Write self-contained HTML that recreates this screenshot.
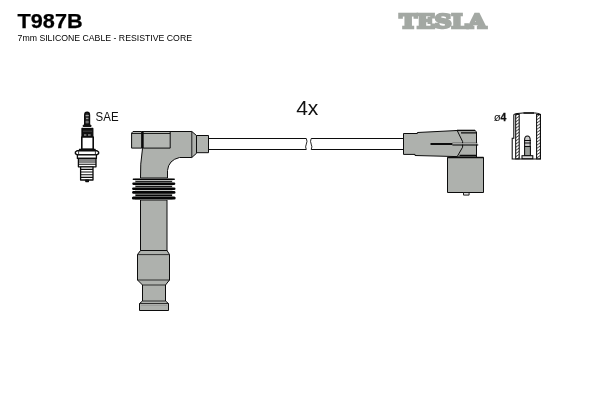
<!DOCTYPE html>
<html><head><meta charset="utf-8">
<style>
html,body{margin:0;padding:0;background:#fff;}
body{width:600px;height:400px;position:relative;overflow:hidden;font-family:"Liberation Sans",sans-serif;}
svg{position:absolute;left:0;top:0;will-change:transform;}
</style></head>
<body>
<svg width="600" height="400" viewBox="0 0 600 400" font-family="Liberation Sans, sans-serif">
<rect width="600" height="400" fill="#fff"/>
<!-- header text -->
<text id="t1" x="17.6" y="28" font-size="20.3" font-weight="bold" fill="#000" stroke="#000" stroke-width="0.25" textLength="65" lengthAdjust="spacingAndGlyphs">T987B</text>
<text id="t2" x="17.6" y="40.8" font-size="9" fill="#000" textLength="174.4" lengthAdjust="spacingAndGlyphs">7mm SILICONE CABLE - RESISTIVE CORE</text>
<text id="logo" x="399.5" y="27.9" font-family="DejaVu Serif, Liberation Serif, serif" font-size="17.6" font-weight="bold" fill="#a3a8a3" stroke="#a3a8a3" stroke-width="2.3" stroke-linejoin="miter" textLength="86.6" lengthAdjust="spacingAndGlyphs">TESLA</text>
<text id="t4x" x="296.2" y="115.3" font-size="21" fill="#111">4x</text>
<text id="sae" x="95.6" y="120.6" font-size="12.6" fill="#111" textLength="23" lengthAdjust="spacingAndGlyphs">SAE</text>
<text id="d4" x="493.7" y="121" font-size="11.4" fill="#111">ø<tspan font-weight="bold" font-size="10.4" dx="-0.2" stroke="#111" stroke-width="0.3">4</tspan></text>

<!-- cable -->
<g stroke="#0c0c0c" stroke-width="1" fill="none">
<path d="M208 138.5H306.3 M208 149.5H306.3 M311.2 138.5H404 M311.2 149.5H404"/>
<path d="M306.3 138.5q1.4 2.8 0 5.6t0 5.4 M311.2 138.5q-1.4 2.8 0 5.6t0 5.4" stroke-width="0.9"/>
</g>

<!-- left connector -->
<g stroke="#0c0c0c" stroke-width="1" stroke-linejoin="round">
<path d="M142.5 148.5 Q140 165 140.5 178 H167.5 V170.5 Q168.5 160 179.5 157.5 H191.8 L196.5 153.3 V135.5 L191.8 131.5 H142.5 Z" fill="#aeb1ad"/>
<rect x="143.2" y="131.5" width="27" height="16.6" fill="#b3b6b2"/>
<path d="M133 131.5H141.6V148.1H131.6V133Z" fill="#b0b3af"/>
<path d="M132 133.5H170.2" fill="none" stroke-width="0.9"/>
<path d="M141.6 131.5H143.2 M141.6 148.1H143.2" fill="none"/>
<rect x="196.5" y="135.5" width="12" height="17.2" fill="#b0b3af"/>
<path d="M191.8 131.5V157.5" fill="none" stroke-width="0.9"/>
<!-- stem -->
<rect x="140.5" y="200" width="26.5" height="51" fill="#aeb1ad"/>
<path d="M140.5 250.5 L137.5 254.5 V280 L142.5 285 V301 L139.5 303.5 V310.5 H168.5 V303.5 L165.5 301 V285 L169.5 280 V254.5 L167 250.5 Z" fill="#aeb1ad"/>
<path d="M137.5 254.6H169.5 M137.5 280H169.5 M142.5 285H165.5 M142.5 301H165.5 M139.5 303.5H168.5" fill="none" stroke-width="0.8"/>
<path d="M141 305.4H167" fill="none" stroke="#8d918d" stroke-width="0.6"/>
</g>
<!-- ribs -->
<rect x="135" y="178.5" width="37.5" height="21.5" fill="#c4c6c3"/>
<g stroke="#050505" fill="none">
<path d="M133.4 179.25H174.2" stroke-width="1.50" stroke-linecap="round"/>
<path d="M133.4 183.75H174.2" stroke-width="2.30" stroke-linecap="round"/>
<path d="M133.4 188.80H174.2" stroke-width="2.60" stroke-linecap="round"/>
<path d="M133.4 192.38H174.2" stroke-width="2.55" stroke-linecap="round"/>
<path d="M133.4 198.00H174.2" stroke-width="3.00" stroke-linecap="round"/>
<path d="M135.5 181.45H172" stroke-width="0.90"/>
<path d="M135.5 186.40H172" stroke-width="1.00"/>
<path d="M135.5 195.15H172" stroke-width="1.50"/>
</g>

<!-- right connector -->
<g stroke="#0c0c0c" stroke-width="1" stroke-linejoin="round">
<path d="M455 130.5 H475 L476.5 131.8 V157 H455Z" fill="#aeb1ad"/>
<path d="M403.5 133.5 H417.4 V132.5 L457.2 130.5 L462.6 141.6 V147.2 L457.2 156.6 L415 155.5 V154.4 H403.5 Z" fill="#aeb1ad"/>
<path d="M457 130.4H475" fill="none" stroke-width="1.4"/>
<path d="M461 132.8H476 M459.5 155.4H476" fill="none" stroke-width="1.3"/>
<rect x="447.5" y="157.5" width="36" height="35" fill="#aeb1ad"/>
<rect x="463.5" y="192.5" width="5.6" height="2.6" fill="#ddd" stroke-width="0.9"/>
<path d="M452.4 144.9H478.2" fill="none" stroke-width="1.3"/>
<path d="M452.4 143.7H477.8" fill="none" stroke="#e4e6e4" stroke-width="1"/>
<path d="M452.4 143H477.4" fill="none" stroke-width="0.5"/>
<path d="M430.5 144H452.4" fill="none" stroke-width="2"/>
<path d="M447.5 157.5H483.5" fill="none" stroke-width="1.5"/>
</g>

<!-- cross-section -->
<defs>
<pattern id="hatch" width="2.6" height="2.6" patternUnits="userSpaceOnUse" patternTransform="rotate(-35)">
<rect width="2.6" height="2.6" fill="#fff"/><line x1="0" y1="0" x2="2.6" y2="0" stroke="#111" stroke-width="1.3"/>
</pattern>
</defs>
<g stroke="#0a0a0a" stroke-width="1.05" fill="none">
<path d="M513.8 114.4V138.2H512.2V159H540.4V114.4" />
<rect x="515.7" y="114.4" width="3.5" height="44.4" fill="url(#hatch)"/>
<rect x="536.6" y="114.4" width="3.8" height="44.4" fill="url(#hatch)"/>
<path d="M513.8 114.6 Q516 113 523 113 H535 Q539 113 540.4 114.6"/>
<path d="M523.5 113H534" stroke-width="1.4"/>
<!-- pin -->
<path d="M524.6 146.5V140 Q524.6 136 527.4 136 Q530.2 136 530.2 140V146.5" fill="#ccc"/>
<path d="M524 140.5H531 M524 143H531" stroke-width="1.2"/>
<rect x="524.6" y="146.5" width="5.8" height="9.2" fill="#9a9e9a"/>
<rect x="522" y="155.7" width="10.8" height="3" fill="#ddd"/>
</g>

<!-- spark plug -->
<g stroke="#0c0c0c" stroke-width="1.2" fill="none" stroke-linejoin="round">
<path d="M84.8 125V115 Q84.8 112.4 87.1 112.4 Q89.4 112.4 89.4 115V125Z" fill="#333" stroke-width="1.6"/>
<path d="M85.6 115.6H88.8 M86 118.4H88.4 M85.6 122H88.8" stroke="#bbb" stroke-width="0.9"/>
<rect x="83.2" y="125.2" width="7.8" height="1.4" fill="#111" stroke-width="1"/>
<rect x="82" y="128.4" width="10.8" height="8" fill="#111" stroke-width="1.3"/>
<path d="M83 127.5H91.5" stroke="#eee" stroke-width="0.7"/>
<path d="M84 135H86.4 M88 135H90.6" stroke="#eee" stroke-width="0.8"/>
<path d="M83 131.2H92" stroke="#666" stroke-width="0.6"/>
<rect x="81.8" y="137" width="11.4" height="12.4" fill="#fff" stroke-width="1.6"/>
<path d="M79.4 149.4H95.2V151H79.4Z" fill="#fff" stroke-width="1.1"/>
<path d="M77 150.8H97 L98.6 152V153.6 L97 154.8H77 L75.4 153.6V152Z" fill="#fff" stroke-width="1.4"/>
<path d="M78.6 151.2V154.6 M95.4 151.2V154.6" stroke-width="0.8"/>
<rect x="77.4" y="154.8" width="19" height="3.6" fill="#fff" stroke-width="1.3"/>
<rect x="78.4" y="158.4" width="17.6" height="8.4" fill="#fff" stroke-width="1.3"/>
<path d="M78.4 160H96 M78.4 162H96 M78.4 164.2H96" stroke-width="1.1"/>
<rect x="80.6" y="166.8" width="12.4" height="13.2" fill="#fff" stroke-width="1.3"/>
<path d="M80.6 169.4H93 M80.6 172H93 M80.6 174.7H93 M80.6 177.4H93" stroke-width="1.1"/>
<rect x="85.8" y="180" width="2.6" height="1.6" fill="#222"/>
</g>
</svg>
</body></html>
